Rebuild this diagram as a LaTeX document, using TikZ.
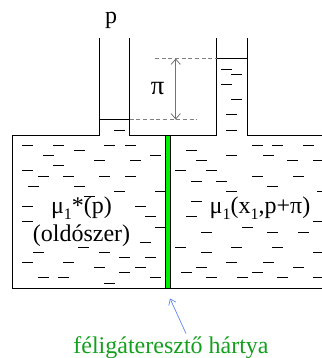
\documentclass[tikz,border=0pt]{standalone}
\usepackage{xcolor}
\usepackage{fontspec}
\setmainfont{Liberation Serif}
\usetikzlibrary{arrows.meta, positioning}
\definecolor{membrane}{RGB}{0,240,0}
\definecolor{labelgreen}{RGB}{20,160,30}
\definecolor{pointer}{RGB}{90,130,240}

\begin{document}
\begin{tikzpicture}[
  x=0.75pt, y=-0.75pt,
  wall/.style={draw=black, line width=0.75pt},
  dash_mark/.style={draw=black, line width=0.6pt},
  level_line/.style={draw=gray, densely dashed, line width=0.55pt},
  label_text/.style={font=\fontsize{18}{21}\selectfont, inner sep=0pt}
]
\useasboundingbox (0,0) rectangle (322,358);
% vessel walls
\draw[wall] (99.5,38) -- (99.5,135.5) -- (12.5,135.5) -- (12.5,288) -- (322,288);
\draw[wall] (129.5,38) -- (129.5,135.5) -- (216.5,135.5) -- (216.5,38);
\draw[wall] (247.5,38) -- (247.5,135.5) -- (322,135.5);
\draw[wall] (99.5,119.5) -- (129.5,119.5);
\draw[wall] (216.5,58.5) -- (247.5,58.5);
% solvent marks
\foreach \xa/\y in {221/69,231/74,221/84,231/99,226/114,226/130,114/130,
  22/145,53/145,104/145,125/145,252/145,272/145,303/145,
  74/150,186/150,
  43/155,150/155,226/155,263/155,
  94/160,130/160,196/160,287/160,313/160,
  53/165,
  22/170,175/170,206/170,
  38/176,63/176,99/176,125/176,252/176,293/176,
  191/181,216/181,
  28/186,74/186,267/186,
  114/191,155/191,226/191,317/191,
  84/196,
  191/201,22/206,135/206,
  145/216,186/216,
  22/221,313/221,155/227,242/227,
  201/232,267/232,298/232,
  140/242,
  78/247,175/247,231/247,272/247,
  33/252,99/252,201/252,313/252,
  119/257,145/257,
  22/262,63/262,226/262,263/262,
  94/267,135/267,196/267,293/267,
  119/272,181/272,252/272,
  38/277,58/277,150/277,206/277,237/277,277/277,313/277,
  104/283}{
  \draw[dash_mark] (\xa,\y) -- ++(11,0);
}
% membrane
\fill[membrane, draw=black, line width=0.5pt] (165.3,135.5) rectangle (170.7,288);
% osmotic height
\coordinate (top_left) at (155,58.5);
\coordinate (top_right) at (216.5,58.5);
\coordinate (low_left) at (129.5,119.5);
\coordinate (low_right) at (197,119.5);
\coordinate (top_mid) at (175.7,58.5);
\coordinate (low_mid) at (175.7,119.5);
\draw[level_line] (top_left) -- (top_right);
\draw[level_line] (low_left) -- (low_right);
\draw[{Straight Barb[length=4pt,width=7pt]}-{Straight Barb[length=4pt,width=7pt]}, gray!90!black, line width=0.6pt] (top_mid) -- (low_mid);
% labels
\node[label_text] (p_label) at (111,20.5) {p};
\node[label_text, font=\fontsize{20}{24}\selectfont] (pi_label) at (157.5,89) {π};
\node[label_text, anchor=base] (chem_left) at (81.5,213) {μ\raisebox{-0.25em}{\fontsize{12}{14}\selectfont 1}*(p)};
\node[label_text, anchor=base] (solvent) at (81.5,241) {(oldószer)};
\node[label_text, anchor=base] (chem_right) at (260,213) {μ\raisebox{-0.25em}{\fontsize{12}{14}\selectfont 1}(x\raisebox{-0.25em}{\fontsize{12}{14}\selectfont 1},p+π)};
\node[label_text, color=labelgreen, anchor=base] (membrane_label) at (171,353.5) {féligáteresztő hártya};
% pointer to membrane
\coordinate (membrane_foot) at (170,298.5);
\coordinate (pointer_start) at (186,333.5);
\draw[-{Straight Barb[length=4pt,width=6pt]}, pointer, line width=0.5pt] (pointer_start) -- (membrane_foot);
\end{tikzpicture}
\end{document}
